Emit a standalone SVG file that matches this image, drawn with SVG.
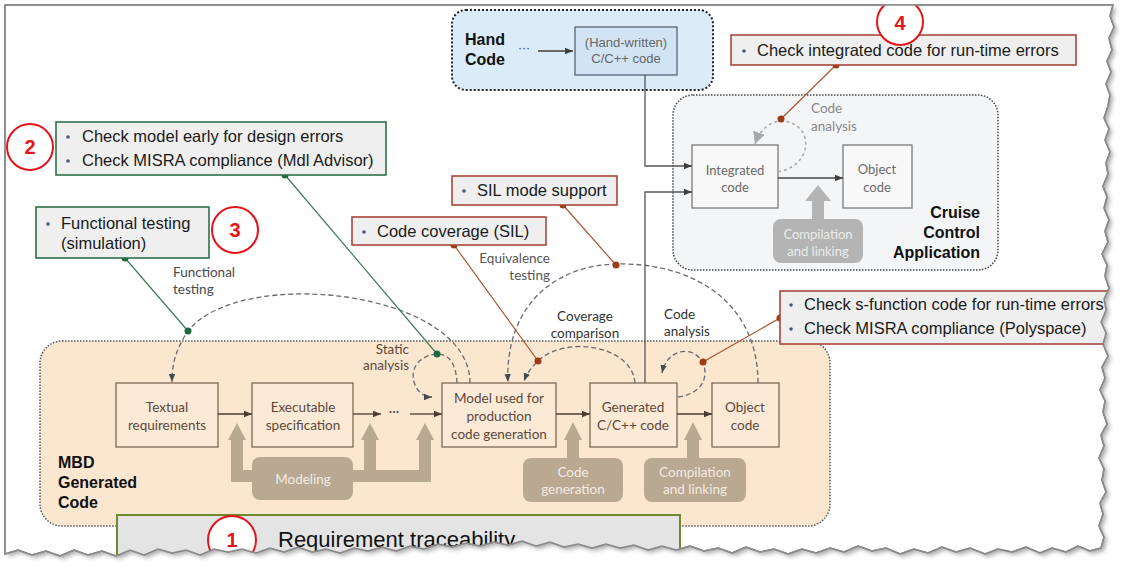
<svg xmlns="http://www.w3.org/2000/svg" width="1124" height="568" viewBox="0 0 1124 568">
<defs>
<style>
.cb{fill:#efefef;stroke-width:1.6}
.cg{stroke:#2f6e4c}
.cr{stroke:#a8473a}
.ct{font-family:"Liberation Sans",Arial,sans-serif;font-size:16.5px;fill:#1a1a1a}
.num{font-family:"Liberation Sans",Arial,sans-serif;font-size:20px;font-weight:bold;fill:#e5141b;text-anchor:middle}
.circ{fill:#fff;stroke:#e5141b;stroke-width:2}
.bl{fill:#4a5a75}
.hd{font-family:"Liberation Sans",Arial,sans-serif;font-size:16px;font-weight:bold;fill:#111}
.mbox{fill:#fce9d6;stroke:#7d6a58;stroke-width:1.3}
.ml{font-family:Lato,"Open Sans",sans-serif;font-size:13.5px;fill:#5a4a3c;text-anchor:middle}
.tan{fill:#b9a892}
.tl{font-family:Lato,"Open Sans",sans-serif;font-size:13.5px;fill:#f3ebe0;text-anchor:middle}
.lbl{font-family:Lato,"Open Sans",sans-serif;font-size:13.5px;fill:#4a4a4a}
.dash{fill:none;stroke:#6a6a6a;stroke-width:1.3;stroke-dasharray:5 3}
.ln{fill:none;stroke:#4a3c30;stroke-width:1.3}
.gl{fill:none;stroke:#3d7b5a;stroke-width:1.2}
.rl{fill:none;stroke:#a9552f;stroke-width:1.2}
.gd{fill:#1f6b3f}
.rd{fill:#9c3d15}
.cbox{fill:#f8f8f8;stroke:#7a7a7a;stroke-width:1.3}
.cl{font-family:Lato,"Open Sans",sans-serif;font-size:13px;fill:#6a6a6a;text-anchor:middle}
</style>
<marker id="a" viewBox="0 0 10 10" refX="10" refY="5" markerWidth="8" markerHeight="8" markerUnits="userSpaceOnUse" orient="auto"><path d="M0,1 L10,5 L0,9 Z" fill="#3f3f3f"/></marker>
<marker id="ab" viewBox="0 0 10 10" refX="10" refY="5" markerWidth="8" markerHeight="8" markerUnits="userSpaceOnUse" orient="auto"><path d="M0,1 L10,5 L0,9 Z" fill="#4a3c30"/></marker>
<marker id="ad" viewBox="0 0 10 10" refX="10" refY="5" markerWidth="8" markerHeight="8" markerUnits="userSpaceOnUse" orient="auto"><path d="M0,1 L10,5 L0,9 Z" fill="#4a4a4a"/></marker>
<marker id="ag" viewBox="0 0 10 10" refX="10" refY="5" markerWidth="12" markerHeight="12" markerUnits="userSpaceOnUse" orient="auto"><path d="M0,0 L10,5 L0,10 Z" fill="#a8a8a8"/></marker>
<filter id="sh" x="-5%" y="-5%" width="110%" height="110%"><feGaussianBlur stdDeviation="2"/></filter>
<path id="pp" d="M5,5 L1113,5 L1110,16 L1114,27 L1109,38 L1112,50 L1107,61 L1111,72 L1106,84 L1110,95 L1108,106 L1104,118 L1109,129 L1105,140 L1110,152 L1106,163 L1108,174 L1103,186 L1107,197 L1104,208 L1109,220 L1105,231 L1108,242 L1102,254 L1107,265 L1105,276 L1109,288 L1104,299 L1106,310 L1101,322 L1106,333 L1103,344 L1108,356 L1102,367 L1105,378 L1100,390 L1105,401 L1103,412 L1107,424 L1101,435 L1104,446 L1099,458 L1104,469 L1102,480 L1106,492 L1100,503 L1103,514 L1099,526 L1104,537 L1101,548 L1090,551 L1078,546 L1066,552 L1052,548 L1040,553 L1026,547 L1012,552 L998,549 L985,554 L970,548 L956,552 L942,547 L928,553 L914,549 L900,554 L886,548 L872,551 L858,546 L844,552 L830,548 L816,553 L802,549 L788,554 L774,549 L760,552 L746,547 L732,553 L718,548 L704,551 L690,546 L676,550 L662,546 L648,550 L634,545 L620,548 L606,544 L592,548 L578,544 L564,547 L550,542 L536,546 L522,541 L508,545 L494,542 L480,546 L466,543 L452,547 L438,544 L424,549 L410,546 L396,551 L382,547 L368,551 L354,548 L340,553 L326,549 L312,552 L298,547 L284,552 L270,548 L256,553 L242,549 L228,552 L214,549 L200,555 L186,550 L172,553 L158,549 L144,555 L130,550 L116,556 L102,551 L88,555 L74,550 L60,556 L46,551 L32,555 L18,550 L5,554 Z"/>
<clipPath id="paper"><use href="#pp"/></clipPath>
</defs>
<rect width="1124" height="568" fill="#fff"/>
<use href="#pp" transform="translate(3,3)" fill="#777" opacity="0.6" filter="url(#sh)"/>
<use href="#pp" fill="#fff" stroke="#8a8a8a" stroke-width="1.5"/>
<g clip-path="url(#paper)">

<!-- containers -->
<g id="mbd">
<rect x="40" y="341" width="790" height="185" rx="22" fill="#fbe6d0" stroke="#555" stroke-width="1.5" stroke-dasharray="1.5 1.5"/>
<text class="hd" x="58" y="468">MBD</text>
<text class="hd" x="58" y="488">Generated</text>
<text class="hd" x="58" y="508">Code</text>
</g>
<g id="cruise">
<rect x="673" y="95" width="325" height="175" rx="20" fill="#f4f5f7" stroke="#444" stroke-width="1.5" stroke-dasharray="1.5 1.5"/>
<text class="hd" x="980" y="218" text-anchor="end">Cruise</text>
<text class="hd" x="980" y="238" text-anchor="end">Control</text>
<text class="hd" x="980" y="258" text-anchor="end">Application</text>
</g>
<g id="handcode">
<rect x="452" y="10" width="261" height="80" rx="14" fill="#dcebf8" stroke="#222" stroke-width="2" stroke-dasharray="2 2"/>
<text class="hd" x="465" y="45">Hand</text>
<text class="hd" x="465" y="65">Code</text>
<text x="524" y="52" font-family="Liberation Sans,Arial,sans-serif" font-size="12" fill="#333" text-anchor="middle">···</text>
</g>
<g id="handwritten">
<rect x="575" y="27" width="102" height="48" fill="#d2e4f4" stroke="#5a6470" stroke-width="1.3"/>
<text x="626" y="47" font-family="Liberation Sans,Arial,sans-serif" font-size="13" fill="#666" text-anchor="middle">(Hand-written)</text>
<text x="626" y="63" font-family="Liberation Sans,Arial,sans-serif" font-size="13" fill="#666" text-anchor="middle">C/C++ code</text>
</g>

<!-- MBD nodes -->
<g id="textual"><rect class="mbox" x="116" y="383" width="102" height="64"/><text class="ml" x="167" y="412">Textual</text><text class="ml" x="167" y="430">requirements</text></g>
<g id="executable"><rect class="mbox" x="252" y="383" width="101" height="64"/><text class="ml" x="303" y="412">Executable</text><text class="ml" x="303" y="430">specification</text></g>
<g id="model"><rect class="mbox" x="442" y="383" width="114" height="64"/><text class="ml" x="499" y="403">Model used for</text><text class="ml" x="499" y="421">production</text><text class="ml" x="499" y="439">code generation</text></g>
<g id="generated"><rect class="mbox" x="590" y="383" width="87" height="64"/><text class="ml" x="633" y="412">Generated</text><text class="ml" x="633" y="430">C/C++ code</text></g>
<g id="objectmbd"><rect class="mbox" x="712" y="383" width="67" height="64"/><text class="ml" x="745" y="412">Object</text><text class="ml" x="745" y="430">code</text></g>
<text class="ml" x="394" y="416">···</text>

<g id="modeling">
<path class="tan" d="M237,423 L246,440 L243,440 L243,470 L252,470 L252,482 L231,482 L231,440 L228,440 Z"/>
<path class="tan" d="M353,470 L364,470 L364,440 L361,440 L370,423 L379,440 L376,440 L376,470 L419,470 L419,440 L416,440 L425,423 L434,440 L431,440 L431,482 L353,482 Z"/>
<rect class="tan" x="252" y="457" width="101" height="43" rx="8"/>
<text class="tl" x="303" y="484">Modeling</text>
</g>
<g id="codegen">
<path class="tan" d="M573,422 L582,440 L579,440 L579,460 L567,460 L567,440 L564,440 Z"/>
<rect class="tan" x="523" y="458" width="100" height="44" rx="8"/>
<text class="tl" x="573" y="477">Code</text><text class="tl" x="573" y="494">generation</text>
</g>
<g id="compile">
<path class="tan" d="M693,422 L702,440 L699,440 L699,460 L687,460 L687,440 L684,440 Z"/>
<rect class="tan" x="644" y="458" width="102" height="44" rx="8"/>
<text class="tl" x="695" y="477">Compilation</text><text class="tl" x="695" y="494">and linking</text>
</g>

<!-- cruise nodes -->
<g id="integrated"><rect class="cbox" x="692" y="145" width="86" height="63"/><text class="cl" x="735" y="175">Integrated</text><text class="cl" x="735" y="192">code</text></g>
<g id="objectcc"><rect class="cbox" x="843" y="145" width="69" height="63"/><text class="cl" x="877" y="174">Object</text><text class="cl" x="877" y="192">code</text></g>
<g id="compilecc">
<path d="M818,185 L831,201 L824,201 L824,221 L812,221 L812,201 L805,201 Z" fill="#b4b4b4"/>
<rect x="773" y="219" width="90" height="44" rx="8" fill="#b4b4b4"/>
<text class="cl" x="818" y="239" style="fill:#ececec">Compilation</text>
<text class="cl" x="818" y="256" style="fill:#ececec">and linking</text>
</g>

<!-- connectors -->
<g id="connectors">
<path class="ln" d="M538,51 H573" marker-end="url(#a)"/>
<path d="M645,75 V166 H692" fill="none" stroke="#555" stroke-width="1.3" marker-end="url(#a)"/>
<path d="M645,383 V192 H692" fill="none" stroke="#555" stroke-width="1.3" marker-end="url(#a)"/>
<path d="M778,178 H843" fill="none" stroke="#444" stroke-width="1.3" marker-end="url(#a)"/>
<path class="ln" d="M218,414 H252" marker-end="url(#ab)"/>
<path class="ln" d="M353,414 H381" marker-end="url(#ab)"/>
<path class="ln" d="M410,414 H442" marker-end="url(#ab)"/>
<path class="ln" d="M556,414 H590" marker-end="url(#ab)"/>
<path class="ln" d="M677,414 H712" marker-end="url(#ab)"/>

<path class="dash" d="M470,383 C470,290 240,265 188,331 C178,346 172,360 172,382" marker-end="url(#ad)"/>
<path class="dash" d="M457,383 C456,362 448,354 437,354 C420,355 410,368 414,382 C417,392 424,397 432,397" marker-end="url(#ad)"/>
<path class="dash" d="M758,383 C758,300 690,262 616,264 C550,266 505,310 508,382" marker-end="url(#ad)"/>
<path class="dash" d="M635,383 C632,345 565,335 538,361 C531,368 527,373 524,381" marker-end="url(#ad)"/>
<path class="dash" d="M678,397 C700,394 708,380 704,366 C698,346 668,345 662,373" marker-end="url(#ad)"/>
<path d="M778,172 C800,168 810,150 804,135 C797,118 766,112 755,144" fill="none" stroke="#a8a8a8" stroke-width="1.5" stroke-dasharray="3 3" marker-end="url(#ag)"/>

<line class="gl" x1="285" y1="175" x2="437" y2="354"/>
<line class="gl" x1="125" y1="258" x2="188" y2="331"/>
<line class="rl" x1="836" y1="65" x2="781" y2="119"/>
<line class="rl" x1="563" y1="205" x2="616" y2="265"/>
<line class="rl" x1="454" y1="245" x2="538" y2="361"/>
<line class="rl" x1="780" y1="318" x2="703" y2="362"/>
<circle class="gd" cx="285" cy="175" r="3.5"/><circle class="gd" cx="437" cy="354" r="3.5"/>
<circle class="gd" cx="125" cy="258" r="3.5"/><circle class="gd" cx="188" cy="331" r="3.5"/>
<circle class="rd" cx="836" cy="65" r="3.5"/><circle class="rd" cx="781" cy="119" r="3.5"/>
<circle class="rd" cx="563" cy="205" r="3.5"/><circle class="rd" cx="616" cy="265" r="3.5"/>
<circle class="rd" cx="454" cy="245" r="3.5"/><circle class="rd" cx="538" cy="361" r="3.5"/>
<circle class="rd" cx="780" cy="318" r="3.5"/><circle class="rd" cx="703" cy="362" r="3.5"/>
</g>

<!-- connector labels -->
<text class="lbl" x="173" y="277">Functional</text>
<text class="lbl" x="173" y="294">testing</text>
<text class="lbl" x="550" y="263" text-anchor="end" style="fill:#555">Equivalence</text>
<text class="lbl" x="550" y="280" text-anchor="end" style="fill:#555">testing</text>
<text class="lbl" x="585" y="321" text-anchor="middle" style="fill:#333">Coverage</text>
<text class="lbl" x="585" y="338" text-anchor="middle" style="fill:#333">comparison</text>
<text class="lbl" x="664" y="319" style="fill:#333">Code</text>
<text class="lbl" x="664" y="336" style="fill:#333">analysis</text>
<text class="lbl" x="409" y="354" text-anchor="end" style="fill:#5a4a3c">Static</text>
<text class="lbl" x="409" y="370" text-anchor="end" style="fill:#5a4a3c">analysis</text>
<text class="lbl" x="811" y="113" style="fill:#888">Code</text>
<text class="lbl" x="811" y="131" style="fill:#888">analysis</text>

<!-- callouts -->
<g id="callout2">
<rect class="cb cg" x="56" y="122" width="330" height="53"/>
<circle class="bl" cx="68" cy="137" r="1.8"/><text class="ct" x="82" y="142">Check model early for design errors</text>
<circle class="bl" cx="68" cy="161" r="1.8"/><text class="ct" x="82" y="166">Check MISRA compliance (Mdl Advisor)</text>
</g>
<g id="callout3">
<rect class="cb cg" x="36" y="207" width="173" height="51"/>
<circle class="bl" cx="48" cy="224" r="1.8"/><text class="ct" x="61" y="229">Functional testing</text>
<text class="ct" x="61" y="249">(simulation)</text>
</g>
<g id="calloutCov">
<rect class="cb cr" x="352" y="217" width="194" height="28"/>
<circle class="bl" cx="364" cy="232" r="1.8"/><text class="ct" x="377" y="237">Code coverage (SIL)</text>
</g>
<g id="calloutSIL">
<rect class="cb cr" x="452" y="176" width="165" height="29"/>
<circle class="bl" cx="464" cy="191" r="1.8"/><text class="ct" x="477" y="196">SIL mode support</text>
</g>
<g id="callout4">
<rect class="cb cr" x="731" y="35" width="345" height="30"/>
<circle class="bl" cx="744" cy="51" r="1.8"/><text class="ct" x="757" y="56">Check integrated code for run-time errors</text>
</g>
<g id="calloutSF">
<rect class="cb cr" x="780" y="291" width="345" height="53"/>
<circle class="bl" cx="791" cy="305" r="1.8"/><text class="ct" x="804" y="310">Check s-function code for run-time errors</text>
<circle class="bl" cx="791" cy="329" r="1.8"/><text class="ct" x="804" y="334">Check MISRA compliance (Polyspace)</text>
</g>
<g id="trace">
<rect x="117" y="515" width="563" height="50" fill="#e4e4e4" stroke="#6f8a2c" stroke-width="2"/>
<text x="278" y="547" font-family="Liberation Sans,Arial,sans-serif" font-size="22" fill="#111">Requirement traceability</text>
</g>

<!-- numbered circles -->
<g id="n1"><circle class="circ" cx="232" cy="540" r="24"/><text class="num" x="232" y="547">1</text></g>
<g id="n2"><circle class="circ" cx="30" cy="147" r="23"/><text class="num" x="30" y="154">2</text></g>
<g id="n3"><circle class="circ" cx="235" cy="230" r="23"/><text class="num" x="235" y="237">3</text></g>
<g id="n4"><circle class="circ" cx="900" cy="22" r="23"/><text class="num" x="900" y="30">4</text></g>
</g>
<use href="#pp" fill="none" stroke="#8a8a8a" stroke-width="1.5"/>
</svg>
